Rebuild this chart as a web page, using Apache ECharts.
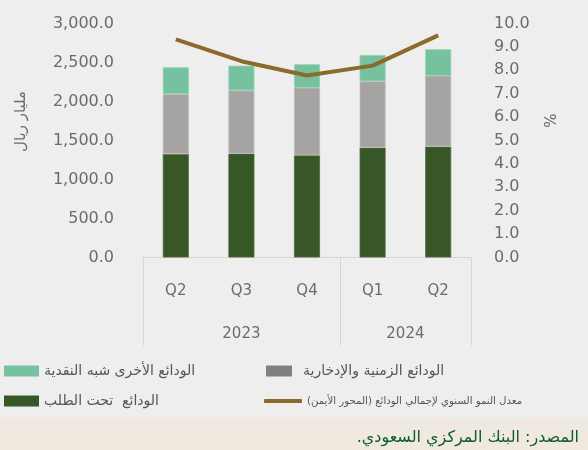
<!DOCTYPE html>
<html><head><meta charset="utf-8">
<script src="https://cdn.jsdelivr.net/npm/echarts@6/dist/echarts.min.js"></script>
<style>html,body{margin:0;padding:0;background:#eeeeee;}#c{width:588px;height:450px;}</style>
</head><body><div id="c"></div>
<script>
var quarters = ['Q2','Q3','Q4','Q1','Q2'];
var years = ['2023','2024'];
var yearSpans = [3,2];
var demandDeposits = [1327,1331,1310,1408,1421];
var timeSavingsDeposits = [769,812,867,851,910];
var otherQuasiMonetary = [342,316,300,337,338];
var growthRate = [9.32,8.39,7.78,8.2,9.49];
var leftTicks = [0,500,1000,1500,2000,2500,3000];

var RLM = '\u200F';
var nameDemand = RLM + 'الودائع  تحت الطلب' + RLM;
var nameTime = RLM + 'الودائع الزمنية والإدخارية' + RLM;
var nameOther = RLM + 'الودائع الأخرى شبه النقدية' + RLM;
var nameGrowth = RLM + 'معدل النمو السنوي لإجمالي الودائع (المحور الأيمن)' + RLM;
var sourceText = RLM + 'المصدر: البنك المركزي السعودي.' + RLM;

var boundaries = [0]; var centers = [];
(function(){var acc=0; for (var i=0;i<yearSpans.length;i++){centers.push(acc+yearSpans[i]/2); acc+=yearSpans[i]; boundaries.push(acc);} })();

var FONT = '"DejaVu Sans", sans-serif';
var TC = '#6b6b6b';
var chart = echarts.init(document.getElementById('c'));
function legendCfg(name, left, top, w, h, color, extra){
  var d = {name:name, icon:'rect', itemStyle:{color:color, borderWidth:0}};
  if (extra) for (var k in extra) d[k]=extra[k];
  return {left:left, top:top, itemWidth:w, itemHeight:h, itemGap:0, padding:0, selectedMode:false,
    itemStyle:{borderWidth:0}, data:[d], textStyle:{fontFamily:FONT, fontSize:14, color:'#555'}};
}
chart.setOption({
  backgroundColor:'#eeeeee',
  animation:false,
  grid:{left:143, right:117, top:23.5, bottom:192.5},
  graphic:[{type:'rect', left:0, top:418, shape:{width:588, height:32}, style:{fill:'#f0e9e0'}, z:-1}],
  title:{text:sourceText, right:4, top:425, textStyle:{fontFamily:FONT, fontSize:16, fontWeight:'normal', color:'#0f5a36'}},
  legend:[
    legendCfg(nameOther, 4, 364, 35, 11, '#76c29f'),
    legendCfg(nameDemand, 4, 394, 35, 11, '#385727'),
    legendCfg(nameTime, 266, 364, 26, 11, '#808080', {textStyle:{fontSize:14, color:'#555', fontFamily:FONT, padding:[0,0,0,6]}}),
    legendCfg(nameGrowth, 264, 396, 38, 4, '#8c6a2a', {icon:'roundRect', textStyle:{fontSize:10.2, color:'#555', fontFamily:FONT}})
  ],
  xAxis:[
    {type:'category', data:quarters, axisLine:{lineStyle:{color:'#d6d6d6'}}, axisTick:{show:false},
     axisLabel:{color:TC, fontFamily:FONT, fontSize:15, margin:26}},
    {type:'value', min:0, max:5, position:'bottom', axisLine:{show:false}, splitLine:{show:false},
     axisTick:{show:true, customValues:boundaries, length:88, lineStyle:{color:'#d6d6d6'}},
     axisLabel:{show:true, customValues:centers, margin:69, color:TC, fontFamily:FONT, fontSize:15,
       formatter:function(v){for (var i=0;i<centers.length;i++){if (Math.abs(centers[i]-v)<1e-6) return years[i];} return '';}}}
  ],
  yAxis:[
    {type:'value', min:leftTicks[0], max:leftTicks[leftTicks.length-1], interval:500, splitLine:{show:false},
     axisLine:{show:false}, axisTick:{show:false},
     axisLabel:{color:TC, fontFamily:FONT, fontSize:16, margin:29, formatter:function(v){return v.toLocaleString('en-US',{minimumFractionDigits:1, maximumFractionDigits:1});}},
     name:'مليار ريال', nameLocation:'middle', nameGap:114, nameTextStyle:{color:TC, fontFamily:FONT, fontSize:15, padding:[0,0,0,38]}},
    {type:'value', min:0, max:10, interval:1, splitLine:{show:false}, axisLine:{show:false}, axisTick:{show:false},
     axisLabel:{color:TC, fontFamily:FONT, fontSize:16, margin:23, formatter:function(v){return v.toFixed(1);}},
     name:'%', nameLocation:'middle', nameGap:74, nameTextStyle:{color:TC, fontFamily:FONT, fontSize:15, padding:[0,0,0,40]}}
  ],
  series:[
    {name:nameDemand, type:'bar', stack:'d', barWidth:26, data:demandDeposits, itemStyle:{color:'#385727', borderColor:'#4f6a40', borderWidth:0.8}},
    {name:nameTime, type:'bar', stack:'d', data:timeSavingsDeposits, itemStyle:{color:'#a5a4a2', borderColor:'#bdbcba', borderWidth:0.8}},
    {name:nameOther, type:'bar', stack:'d', data:otherQuasiMonetary, itemStyle:{color:'#76c29f', borderColor:'#92d0b3', borderWidth:0.8}},
    {name:nameGrowth, type:'line', yAxisIndex:1, data:growthRate, showSymbol:false, symbol:'none', lineStyle:{color:'#8c6a2a', width:4}, itemStyle:{color:'#8c6a2a'}, z:5}
  ]
});
</script></body></html>
